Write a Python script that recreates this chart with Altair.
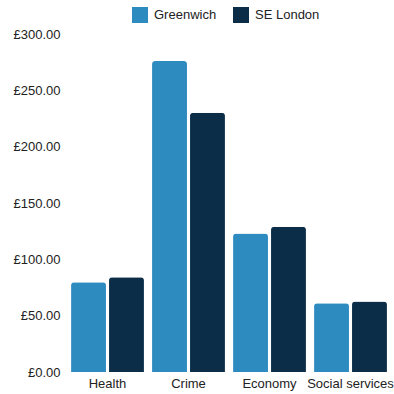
import altair as alt
import pandas as pd

categories = ["Health", "Crime", "Economy", "Social services"]
series = ["Greenwich", "SE London"]
greenwich = [79.6, 276.0, 123.0, 61.0]
se_london = [84.0, 230.0, 129.0, 62.5]
colors = ["#2e8bc0", "#0c2d48"]

rows = []
for c, g, s in zip(categories, greenwich, se_london):
    rows.append({"category": c, "series": "Greenwich", "value": g})
    rows.append({"category": c, "series": "SE London", "value": s})
df = pd.DataFrame(rows)

font = "Liberation Sans"

chart = alt.Chart(df).mark_bar(
    cornerRadiusTopLeft=3, cornerRadiusTopRight=3
).encode(
    x=alt.X("category:N", sort=categories, title=None,
            scale=alt.Scale(paddingInner=0.1, paddingOuter=0.05),
            axis=alt.Axis(labelAngle=0, domain=False, ticks=False, labelPadding=5,
                          labelFontSize=13, labelColor="#222", labelFont=font)),
    xOffset=alt.XOffset("series:N", sort=series,
                        scale=alt.Scale(paddingInner=0.08, paddingOuter=0)),
    y=alt.Y("value:Q", title=None,
            scale=alt.Scale(domain=[0, 300], nice=False),
            axis=alt.Axis(values=[0, 50, 100, 150, 200, 250, 300], grid=False,
                          domain=False, ticks=False, labelPadding=7,
                          labelFontSize=13, labelColor="#222", labelFont=font,
                          labelExpr='"£" + format(datum.value, ".2f")')),
    color=alt.Color("series:N", sort=series,
                    scale=alt.Scale(domain=series, range=colors),
                    legend=alt.Legend(title=None, orient="none", direction="horizontal",
                                      legendX=65, legendY=-27,
                                      symbolType="square", symbolSize=256,
                                      symbolStrokeWidth=0, symbolOpacity=1,
                                      labelFontSize=13, labelColor="#222",
                                      labelFont=font, columnPadding=16,
                                      labelOffset=6)),
).properties(
    width=324, height=338,
    autosize=alt.AutoSizeParams(type="none"),
    padding={"left": 67, "top": 34, "right": 3, "bottom": 22},
).configure_view(stroke=None)

chart.save("out.html", embed_options={"renderer": "svg", "actions": False})
